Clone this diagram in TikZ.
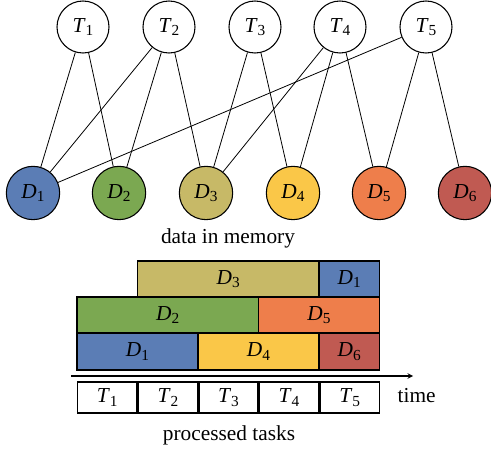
\documentclass[tikz,border=0pt]{standalone}
\usepackage{fontspec}
\setmainfont{Liberation Serif}
\usetikzlibrary{positioning,calc}
\definecolor{cblue}{HTML}{5B7DB5}
\definecolor{cgreen}{HTML}{7BA851}
\definecolor{ckhaki}{HTML}{C7B967}
\definecolor{cyellow}{HTML}{FAC748}
\definecolor{corange}{HTML}{EE7E4B}
\definecolor{cred}{HTML}{C05A52}
\newcommand{\lbl}[2]{\textit{#1}\raisebox{-0.35ex}{\fontsize{11.5}{13}\selectfont #2}}

\begin{document}
\begin{tikzpicture}[x=0.75pt,y=0.75pt,
  every node/.style={font=\fontsize{16}{19}\selectfont},
  task/.style={circle,draw,thick,fill=white,minimum size=39pt,inner sep=0pt},
  data/.style={circle,draw,thick,minimum size=40pt,inner sep=0pt},
  slot/.style={draw,thick,inner sep=0pt},
  link/.style={semithick}]
\useasboundingbox (0,0) rectangle (491,452);
% tasks
\node[task] (T1) at (83,425) {\lbl{T}{1}};
\node[task] (T2) at (169,425) {\lbl{T}{2}};
\node[task] (T3) at (255,425) {\lbl{T}{3}};
\node[task] (T4) at (340,425) {\lbl{T}{4}};
\node[task] (T5) at (426,425) {\lbl{T}{5}};
% data
\node[data,fill=cblue] (D1) at (33,259) {\lbl{D}{1}};
\node[data,fill=cgreen] (D2) at (119,259) {\lbl{D}{2}};
\node[data,fill=ckhaki] (D3) at (206,259) {\lbl{D}{3}};
\node[data,fill=cyellow] (D4) at (293,259) {\lbl{D}{4}};
\node[data,fill=corange] (D5) at (379,259) {\lbl{D}{5}};
\node[data,fill=cred] (D6) at (465,259) {\lbl{D}{6}};
\draw[link] (T1)--(D1) (T1)--(D2);
\draw[link] (T2)--(D1) (T2)--(D2) (T2)--(D3);
\draw[link] (T3)--(D3) (T3)--(D4);
\draw[link] (T4)--(D3) (T4)--(D4) (T4)--(D5);
\draw[link] (T5)--(D1) (T5)--(D5) (T5)--(D6);
\node (mem) at (228,214) {data in memory};
% schedule
\filldraw[slot,fill=ckhaki] (137.5,155) rectangle node (s3) {\lbl{D}{3}} (319,191);
\filldraw[slot,fill=cblue] (319,155) rectangle node (s1b) {\lbl{D}{1}} (379.5,191);
\filldraw[slot,fill=cgreen] (77,119) rectangle node (s2) {\lbl{D}{2}} (258.5,155);
\filldraw[slot,fill=corange] (258.5,119) rectangle node (s5) {\lbl{D}{5}} (379.5,155);
\filldraw[slot,fill=cblue] (77,82) rectangle node (s1) {\lbl{D}{1}} (198,119);
\filldraw[slot,fill=cyellow] (198,82) rectangle node (s4) {\lbl{D}{4}} (319,119);
\filldraw[slot,fill=cred] (319,82) rectangle node (s6) {\lbl{D}{6}} (379.5,119);
\coordinate (t0) at (71,76);
\coordinate (t1) at (413,76);
\draw[thick,-stealth] (t0)--(t1);
\draw[slot] (77.5,39) rectangle node (p1) {\lbl{T}{1}} (137,70);
\draw[slot] (138.5,39) rectangle node (p2) {\lbl{T}{2}} (197.5,70);
\draw[slot] (199,39) rectangle node (p3) {\lbl{T}{3}} (258,70);
\draw[slot] (259.5,39) rectangle node (p4) {\lbl{T}{4}} (318.5,70);
\draw[slot] (320,39) rectangle node (p5) {\lbl{T}{5}} (379.5,70);
\node[anchor=west] (time) at (393,56) {time};
\node (proc) at (229,17) {processed tasks};
\end{tikzpicture}
\end{document}
